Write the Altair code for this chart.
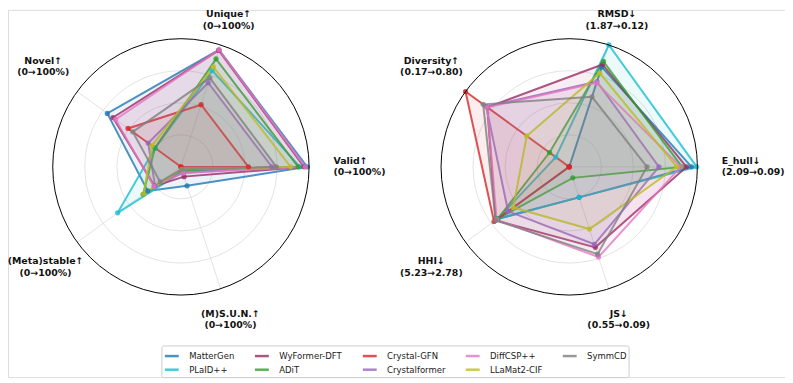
import math
import altair as alt
import pandas as pd

# ---------------- data ----------------
models = ["MatterGen", "PLaID++", "WyFormer-DFT", "ADiT", "Crystal-GFN",
          "Crystalformer", "DiffCSP++", "LLaMat2-CIF", "SymmCD"]
colors = ["#1f77b4", "#17becf", "#9b2a62", "#2ca02c", "#d62728",
          "#9467bd", "#e377c2", "#bcbd22", "#7f7f7f"]
other_order = ["MatterGen", "WyFormer-DFT", "Crystal-GFN", "DiffCSP++", "SymmCD",
               "PLaID++", "ADiT", "Crystalformer", "LLaMat2-CIF"]

left_labels = ["Valid↑\n(0→100%)", "Unique↑\n(0→100%)", "Novel↑\n(0→100%)",
               "(Meta)stable↑\n(0→100%)", "(M)S.U.N.↑\n(0→100%)"]
right_labels = ["E_hull↓\n(2.09→0.09)", "RMSD↓\n(1.87→0.12)", "Diversity↑\n(0.17→0.80)",
                "HHI↓\n(5.23→2.78)", "JS↓\n(0.55→0.09)"]

# normalised scores, order: Valid, Unique, Novel, (Meta)stable, (M)S.U.N.
left_scores = {
    "MatterGen":     [0.985, 0.96, 0.71, 0.32, 0.155],
    "PLaID++":       [0.93, 0.79, 0.25, 0.61, 0.04],
    "WyFormer-DFT":  [0.96, 0.955, 0.655, 0.255, 0.08],
    "ADiT":          [0.915, 0.886, 0.25, 0.365, 0.03],
    "Crystal-GFN":   [0.527, 0.51, 0.51, 0.0, 0.0],
    "Crystalformer": [0.71, 0.69, 0.316, 0.25, 0.05],
    "DiffCSP++":     [0.97, 0.96, 0.63, 0.26, 0.05],
    "LLaMat2-CIF":   [0.856, 0.82, 0.28, 0.36, 0.02],
    "SymmCD":        [0.745, 0.73, 0.465, 0.2, 0.02],
}
# order: E_hull, RMSD, Diversity, HHI, JS
right_scores = {
    "MatterGen":     [0.955, 0.82, 0.0, 0.69, 0.25],
    "PLaID++":       [0.995, 1.0, 0.13, 0.69, 0.25],
    "WyFormer-DFT":  [0.915, 0.84, 0.79, 0.71, 0.66],
    "ADiT":          [0.88, 0.865, 0.19, 0.69, 0.09],
    "Crystal-GFN":   [0.0, 0.0, 1.0, 0.725, 0.0],
    "Crystalformer": [0.70, 0.70, 0.80, 0.59, 0.635],
    "DiffCSP++":     [0.87, 0.69, 0.79, 0.70, 0.74],
    "LLaMat2-CIF":   [0.84, 0.77, 0.41, 0.54, 0.51],
    "SymmCD":        [0.607, 0.575, 0.83, 0.71, 0.716],
}
grid_levels = [0.25, 0.5, 0.75]

# ---------------- layout ----------------
W, H = 785, 371
R_PX = 129.5
CX0, CY0 = 174.7, 158.6          # left centre inside plot area (px)
GAP = (567.0 - CX0) / R_PX        # distance between the two centres (units)
XMIN, XMAX = -CX0 / R_PX, (W - CX0) / R_PX
YMIN, YMAX = -(H - CY0) / R_PX, CY0 / R_PX
label_radius = [1.19, 1.205, 1.328, 1.33, 1.25]

rows = []
for m in models:
    for k in range(5):
        rows.append({"model": m, "panel": 0, "k": k, "r": left_scores[m][k]})
        rows.append({"model": m, "panel": 1, "k": k, "r": right_scores[m][k]})
df = pd.DataFrame(rows)

lab_rows = []
for k in range(5):
    lab_rows.append({"panel": 0, "k": k, "text": left_labels[k], "lr": label_radius[k],
                     "shift": 0.02 if k == 3 else 0.0})
    lab_rows.append({"panel": 1, "k": k, "text": right_labels[k], "lr": label_radius[k],
                     "shift": 0.0})
lab_df = pd.DataFrame(lab_rows)

grid_df = pd.DataFrame([{"panel": p, "gr": g} for p in (0, 1) for g in grid_levels])
outer_df = pd.DataFrame([{"panel": p, "gr": 1.0} for p in (0, 1)])
spoke_df = pd.DataFrame([{"panel": p, "k": k} for p in (0, 1) for k in range(5)])

xs = alt.Scale(domain=[XMIN, XMAX], nice=False, zero=False)
ys = alt.Scale(domain=[YMIN, YMAX], nice=False, zero=False)
rs = alt.Scale(type="linear", domain=[0, 1], range=[0, R_PX], zero=True, nice=False)

ANG = "datum.k * 2 * PI / 5"
CXE = f"datum.panel * {GAP}"

# legend scale (legend fills column by column, like the reference)
lscale = alt.Scale(domain=models, range=colors)
# same colours with a different domain order, so it is not merged with the legend
cscale = alt.Scale(domain=other_order,
                   range=[colors[models.index(m)] for m in other_order])


def circles(data, stroke, width):
    return alt.Chart(data).mark_arc(theta=0, theta2=2 * math.pi, filled=False,
                                    stroke=stroke, strokeWidth=width).transform_calculate(
        cx=CXE, cy="0").encode(
        x=alt.X("cx:Q", scale=xs, axis=None),
        y=alt.Y("cy:Q", scale=ys, axis=None),
        radius=alt.Radius("gr:Q", scale=rs, stack=False),
    )


grid = circles(grid_df, "#dcdcdc", 0.8)
outer = circles(outer_df, "black", 1)

spokes = alt.Chart(spoke_df).mark_rule(color="#dcdcdc", strokeWidth=0.8).transform_calculate(
    cx=CXE, cy="0",
    ex=f"{CXE} + cos({ANG})", ey=f"sin({ANG})").encode(
    x=alt.X("cx:Q", scale=xs, axis=None),
    y=alt.Y("cy:Q", scale=ys, axis=None),
    x2="ex:Q", y2="ey:Q",
)

base = alt.Chart(df).transform_calculate(
    px=f"{CXE} + datum.r * cos({ANG})",
    py=f"datum.r * sin({ANG})",
)

polys = base.mark_line(interpolate="linear-closed", strokeWidth=2,
                       strokeOpacity=0.8, fillOpacity=0.08).encode(
    x=alt.X("px:Q", scale=xs, axis=None),
    y=alt.Y("py:Q", scale=ys, axis=None),
    stroke=alt.Stroke("model:N", scale=lscale, legend=alt.Legend(
        title=None, orient="none", legendX=155, legendY=339, columns=5,
        symbolType="stroke", symbolStrokeWidth=2.5, symbolSize=196, symbolOpacity=0.8,
        labelFont="DejaVu Sans", labelFontSize=8.6, labelColor="#222222",
        labelOffset=9, columnPadding=15, rowPadding=0, padding=2,
        strokeColor="#cccccc", fillColor="white", cornerRadius=2)),
    fill=alt.Fill("model:N", scale=cscale, legend=None),
    detail="panel:N",
    order="k:Q",
)

points = base.mark_circle(size=28, opacity=0.8).encode(
    x=alt.X("px:Q", scale=xs, axis=None),
    y=alt.Y("py:Q", scale=ys, axis=None),
    color=alt.Color("model:N", scale=cscale, legend=None),
)

lab_base = alt.Chart(lab_df).transform_calculate(
    lx=f"{CXE} + datum.lr * cos({ANG}) + datum.shift",
    ly=f"datum.lr * sin({ANG})",
)
text_style = dict(font="DejaVu Sans", fontWeight="bold", fontSize=9.5,
                  lineBreak="\n", lineHeight=11.4, baseline="middle", dy=-5.7,
                  color="#111111")
labels_left = lab_base.transform_filter("datum.k == 0").mark_text(
    align="left", **text_style).encode(
    x=alt.X("lx:Q", scale=xs, axis=None), y=alt.Y("ly:Q", scale=ys, axis=None), text="text:N")
labels_center = lab_base.transform_filter("datum.k != 0").mark_text(
    align="center", **text_style).encode(
    x=alt.X("lx:Q", scale=xs, axis=None), y=alt.Y("ly:Q", scale=ys, axis=None), text="text:N")

chart = alt.layer(grid, spokes, polys, points, outer, labels_left, labels_center).properties(
    width=W, height=H, padding=0,
    autosize=alt.AutoSizeParams(type="none"),
).configure_view(strokeWidth=0, stroke="transparent").configure(background="white")

chart.save("out.html", embed_options={"renderer": "svg", "actions": False})
